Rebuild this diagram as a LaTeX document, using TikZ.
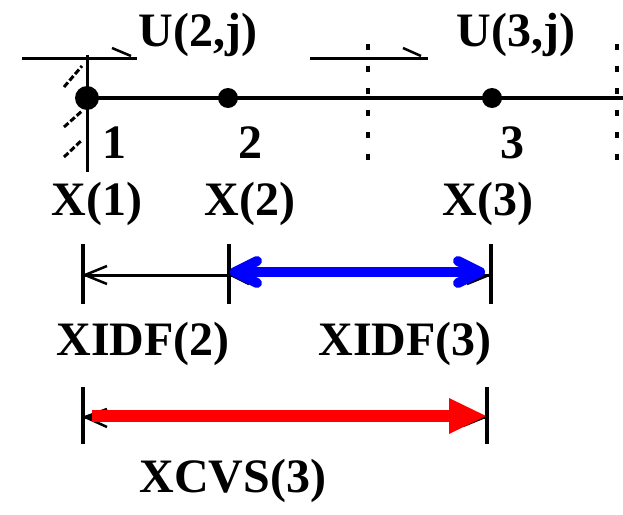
\documentclass[tikz,border=0pt]{standalone}
\usepackage{fontspec}
\setmainfont{Liberation Serif}
\usetikzlibrary{calc}
\begin{document}
\begin{tikzpicture}[x=1pt,y=-1pt,
  lbl/.style={inner sep=0pt, anchor=base, font=\fontsize{48}{48}\selectfont\bfseries},
  ln/.style={line width=3pt},
  mainln/.style={line width=4pt},
  tick/.style={line width=4pt},
  dotnode/.style={circle, fill=black, inner sep=0pt, minimum size=#1},
  dotnode/.default=20pt,
  vdash/.style={line width=4pt, dash pattern=on 6pt off 16pt},
  hatch/.style={line width=3pt, dash pattern=on 6pt off 2.5pt},
  barb/.style={line width=2.5pt},
  bluearr/.style={blue, line width=10pt, line cap=round, line join=round},
  redarr/.style={red, line width=12pt}]
\useasboundingbox (0,0) rectangle (623,514);

% top flux lines
\coordinate (t1a) at (22,58);  \coordinate (t1b) at (137,58);
\coordinate (t2a) at (310,58); \coordinate (t2b) at (428,58);
\draw[ln] (t1a) -- (t1b);
\draw[barb] (112,48) -- (131,56);
\draw[ln] (t2a) -- (t2b);
\draw[barb] (403,48) -- (421,56);

% wall line and hatches
\coordinate (wtop) at (87,55); \coordinate (wbot) at (87,172);
\draw[ln] (wtop) -- (wbot);
\draw[hatch] (64,87) -- (82,66);
\draw[hatch] (64,127) -- (82,111);
\draw[hatch] (64,157) -- (82,140);

% dashed cell faces
\coordinate (f1a) at (368,44); \coordinate (f1b) at (368,162);
\coordinate (f2a) at (617,44); \coordinate (f2b) at (617,162);
\draw[vdash] (f1a) -- (f1b);
\draw[vdash] (f2a) -- (f2b);

% main axis with nodes
\node[dotnode=24pt] (d1) at (87,98) {};
\node[dotnode] (d2) at (228,98) {};
\node[dotnode] (d3) at (492,98) {};
\coordinate (axR) at (623,98);
\draw[mainln] (d1.center) -- (axR);

% labels
\node[lbl] (u2) at (198,46) {U(2,j)};
\node[lbl] (u3) at (516,46) {U(3,j)};
\node[lbl] (n1) at (114,158) {1};
\node[lbl] (n2) at (250,158) {2};
\node[lbl] (n3) at (512,158) {3};
\node[lbl] (x1) at (97,215) {X(1)};
\node[lbl] (x2) at (250,215) {X(2)};
\node[lbl] (x3) at (488,215) {X(3)};
\node[lbl] (xi2) at (143,355) {XIDF(2)};
\node[lbl] (xi3) at (405,355) {XIDF(3)};
\node[lbl] (xc3) at (233,492) {XCVS(3)};

% dimension row 1
\coordinate (a1t) at (83,244);  \coordinate (a1b) at (83,304);
\coordinate (a2t) at (229,244); \coordinate (a2b) at (229,304);
\coordinate (a3t) at (491,244); \coordinate (a3b) at (491,304);
\draw[tick] (a1t) -- (a1b);
\draw[tick] (a2t) -- (a2b);
\draw[tick] (a3t) -- (a3b);
\coordinate (r1L) at (85,275); \coordinate (r1M) at (229,275); \coordinate (r1R) at (489,275);
\draw[ln] (r1L) -- (r1R);
\draw[barb] (r1L) -- ++(22,-9);
\draw[barb] (r1L) -- ++(22,9);
\draw[barb] (231,275) -- ++(18,9);
\draw[barb] (r1R) -- ++(-22,9);
\coordinate (bL) at (235,272); \coordinate (bR) at (480,272);
\draw[bluearr] (bL) -- (bR);
\draw[bluearr] ($(bL)+(22,-11)$) -- (bL) -- ($(bL)+(22,11)$);
\draw[bluearr] ($(bR)+(-22,-11)$) -- (bR) -- ($(bR)+(-22,11)$);

% dimension row 2
\coordinate (c1t) at (83,387);  \coordinate (c1b) at (83,444);
\coordinate (c3t) at (487,387); \coordinate (c3b) at (487,444);
\draw[tick] (c1t) -- (c1b);
\draw[tick] (c3t) -- (c3b);
\coordinate (r2L) at (85,417); \coordinate (r2R) at (485,417);
\draw[ln] (r2L) -- (r2R);
\draw[barb] (r2L) -- ++(22,-8);
\draw[barb] (r2L) -- ++(22,10);
\draw[barb] (r2R) -- ++(-22,9);
\coordinate (rs) at (92,416); \coordinate (rb) at (449,416); \coordinate (rt) at (486,416);
\draw[redarr] (rs) -- (rb);
\fill[red] ($(rb)+(0,-18)$) -- (rt) -- ($(rb)+(0,18)$) -- cycle;
\end{tikzpicture}
\end{document}
